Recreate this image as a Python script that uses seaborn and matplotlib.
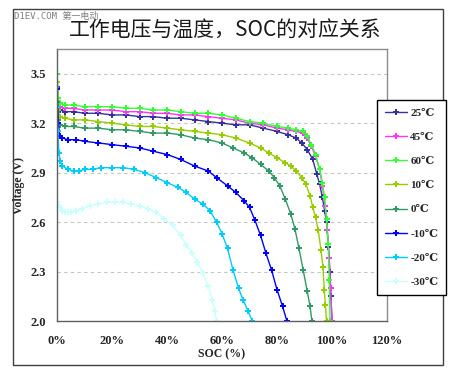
import matplotlib
matplotlib.use("Agg")
import matplotlib.pyplot as plt
import seaborn as sns
import pandas as pd
from matplotlib.patches import Rectangle
from matplotlib.ticker import FuncFormatter

# ---- data ----
labels = ["25℃", "45℃", "60℃", "10℃", "0℃", "-10℃", "-20℃", "-30℃"]
colors = ["#333399", "#ff33ff", "#33ff33", "#99cc00", "#339966", "#0000ff", "#00ccff", "#ccffff"]

soc_25 = [0, 0.5, 1, 3, 6, 10, 15, 20, 25, 30, 35, 40, 45, 50, 55, 60, 65, 70, 75, 80, 84, 87, 89, 91, 93, 94.5, 95.5, 96.5, 97.3, 98, 98.7, 99.2, 99.6, 100]
v_25 = [3.42, 3.31, 3.28, 3.27, 3.27, 3.26, 3.26, 3.25, 3.25, 3.24, 3.24, 3.23, 3.23, 3.22, 3.21, 3.20, 3.19, 3.19, 3.17, 3.15, 3.13, 3.11, 3.08, 3.04, 2.98, 2.89, 2.83, 2.75, 2.67, 2.60, 2.45, 2.30, 2.15, 2.0]

soc_45 = [0, 0.5, 1, 3, 6, 10, 15, 20, 25, 30, 35, 40, 45, 50, 55, 60, 65, 70, 75, 80, 84, 87, 89.5, 91, 92.5, 94, 95.5, 96.5, 97.5, 98.3, 99, 99.5, 100]
v_45 = [3.50, 3.33, 3.30, 3.29, 3.29, 3.28, 3.28, 3.28, 3.27, 3.27, 3.26, 3.26, 3.25, 3.25, 3.24, 3.23, 3.22, 3.20, 3.19, 3.17, 3.16, 3.15, 3.14, 3.11, 3.06, 3.00, 2.92, 2.82, 2.70, 2.55, 2.38, 2.20, 2.0]

soc_60 = [0, 0.5, 1, 3, 6, 10, 15, 20, 25, 30, 35, 40, 45, 50, 55, 60, 65, 70, 75, 80, 84, 87, 89.5, 91, 92.5, 94, 95.5, 96.5, 97.3, 98, 98.6, 99, 99.3]
v_60 = [3.50, 3.35, 3.32, 3.31, 3.31, 3.30, 3.30, 3.30, 3.29, 3.29, 3.28, 3.28, 3.27, 3.26, 3.26, 3.25, 3.23, 3.21, 3.20, 3.18, 3.17, 3.16, 3.15, 3.12, 3.07, 3.01, 2.92, 2.84, 2.75, 2.62, 2.47, 2.25, 2.0]

soc_10 = [0, 0.5, 1, 3, 6, 10, 15, 20, 25, 30, 35, 40, 45, 50, 55, 60, 65, 70, 74, 77, 80, 83, 85, 87, 89, 90.5, 92, 93, 94, 95, 96, 96.7, 97.2, 97.6, 98]
v_10 = [3.45, 3.28, 3.24, 3.23, 3.22, 3.22, 3.21, 3.20, 3.19, 3.18, 3.18, 3.17, 3.16, 3.15, 3.14, 3.13, 3.11, 3.08, 3.05, 3.02, 2.99, 2.96, 2.94, 2.91, 2.87, 2.83, 2.76, 2.69, 2.63, 2.55, 2.43, 2.33, 2.19, 2.10, 2.0]

soc_0 = [0, 0.5, 1, 3, 6, 10, 15, 20, 25, 30, 35, 40, 45, 50, 55, 60, 64, 68, 71, 74, 77, 79, 81, 83, 85, 86.5, 88, 89.5, 91, 92, 92.7]
v_0 = [3.33, 3.22, 3.19, 3.18, 3.18, 3.17, 3.17, 3.16, 3.16, 3.15, 3.14, 3.14, 3.13, 3.11, 3.10, 3.08, 3.05, 3.02, 2.99, 2.95, 2.91, 2.87, 2.82, 2.74, 2.65, 2.56, 2.44, 2.31, 2.18, 2.09, 2.0]

soc_m10 = [0, 0.5, 1, 2, 4, 7, 10, 15, 20, 25, 30, 35, 40, 45, 50, 55, 58, 62, 65, 68, 70, 72, 74, 76, 78, 80, 82, 83.6]
v_m10 = [3.41, 3.20, 3.12, 3.11, 3.10, 3.10, 3.09, 3.08, 3.07, 3.06, 3.05, 3.03, 3.01, 2.98, 2.94, 2.91, 2.87, 2.82, 2.78, 2.73, 2.69, 2.61, 2.52, 2.41, 2.31, 2.19, 2.09, 2.0]

soc_m20 = [0, 0.3, 0.7, 1.2, 2, 4, 6, 8, 10, 13, 16, 20, 24, 28, 32, 36, 40, 44, 47, 50, 53, 55.6, 58, 60, 62, 64, 66, 67.6, 69.5, 71]
v_m20 = [3.30, 3.15, 3.02, 2.97, 2.94, 2.92, 2.91, 2.91, 2.92, 2.92, 2.93, 2.93, 2.93, 2.92, 2.90, 2.87, 2.84, 2.81, 2.78, 2.74, 2.71, 2.67, 2.60, 2.53, 2.44, 2.31, 2.20, 2.13, 2.06, 2.0]

soc_m30 = [0, 1, 2, 3, 4, 5, 7, 9, 12, 15, 18, 21, 24, 27, 30, 33, 36, 39, 42, 45, 47, 49, 51, 53, 55, 56.5, 57.3, 58]
v_m30 = [2.72, 2.69, 2.67, 2.66, 2.66, 2.66, 2.67, 2.68, 2.70, 2.71, 2.72, 2.72, 2.72, 2.71, 2.70, 2.68, 2.66, 2.62, 2.58, 2.52, 2.46, 2.41, 2.36, 2.29, 2.21, 2.13, 2.06, 2.0]

series = [(soc_25, v_25), (soc_45, v_45), (soc_60, v_60), (soc_10, v_10),
          (soc_0, v_0), (soc_m10, v_m10), (soc_m20, v_m20), (soc_m30, v_m30)]

x_ticks = [0, 20, 40, 60, 80, 100, 120]
y_ticks = [2.0, 2.3, 2.6, 2.9, 3.2, 3.5]

title = "工作电压与温度，SOC的对应关系"
watermark = "D1EV.COM 第一电动"

# ---- figure ----
sns.set_style("white")
plt.rcParams["font.family"] = ["Liberation Serif", "DejaVu Serif"]

fig = plt.figure(figsize=(4.51, 3.71), dpi=100)
fig.patch.set_facecolor("white")
ax = fig.add_axes([57 / 451, 50 / 371, 330 / 451, 272 / 371])

for (sx, sv), lab, col in zip(series, labels, colors):
    df = pd.DataFrame({"SOC": sx, "V": sv})
    sns.lineplot(data=df, x="SOC", y="V", ax=ax, color=col, label=lab,
                 sort=False, estimator=None, linewidth=1.0,
                 marker="P", markersize=3.8, markeredgewidth=0)

ax.set_xlim(0, 120)
ax.set_ylim(2.0, 3.65)
ax.set_xticks(x_ticks)
ax.set_yticks(y_ticks)
ax.xaxis.set_major_formatter(FuncFormatter(lambda v, p: f"{int(v)}%"))
ax.yaxis.set_major_formatter(FuncFormatter(lambda v, p: f"{v:.1f}"))
for yv in y_ticks[1:]:
    ax.axhline(yv, color="#c4c4c4", lw=0.8, ls=(0, (3, 3)), zorder=0)

ax.tick_params(axis="x", direction="in", length=3, width=0.8, color="#404040",
               labelsize=9, pad=10)
ax.tick_params(axis="y", length=0, labelsize=9, pad=8)
for t in ax.get_xticklabels() + ax.get_yticklabels():
    t.set_fontweight("bold")

for side, sp in ax.spines.items():
    sp.set_visible(True)
    sp.set_linewidth(1.0)
    sp.set_color("#8c8c8c" if side in ("top", "right") else "#606060")

ax.set_xlabel("SOC (%)", fontsize=8.5, fontweight="bold", labelpad=1)
ax.set_ylabel("Voltage (V)", fontsize=8.5, fontweight="bold", labelpad=4)

ax.get_legend().remove()
handles, labs = ax.get_legend_handles_labels()
leg = fig.legend(handles, labs, loc="upper left",
                 bbox_to_anchor=(377 / 451, (371 - 100) / 371),
                 frameon=True, fancybox=False,
                 prop={"family": ["Liberation Serif", "DejaVu Serif"], "weight": "bold", "size": 8},
                 labelspacing=1.3, handlelength=2.0, handletextpad=0.3,
                 borderpad=0.7, borderaxespad=0)
leg.get_frame().set_edgecolor("black")
leg.get_frame().set_linewidth(1.0)
leg.get_frame().set_facecolor("white")
leg.get_frame().set_alpha(1)

fig.text(225 / 451, (371 - 31) / 371, title, ha="center", va="center",
         fontsize=15, family=["Noto Sans CJK SC", "DejaVu Sans"], color="#1a1a1a")
fig.text(14 / 451, (371 - 16) / 371, watermark, ha="left", va="center",
         fontsize=6.5, family=["DejaVu Sans Mono", "Noto Sans CJK SC"], color="#808080")

fig.add_artist(Rectangle((13 / 451, (371 - 365) / 371), 430 / 451, 356 / 371,
                         transform=fig.transFigure, fill=False,
                         edgecolor="#404040", linewidth=1.0))

fig.savefig("out.png", dpi=100, facecolor="white")
